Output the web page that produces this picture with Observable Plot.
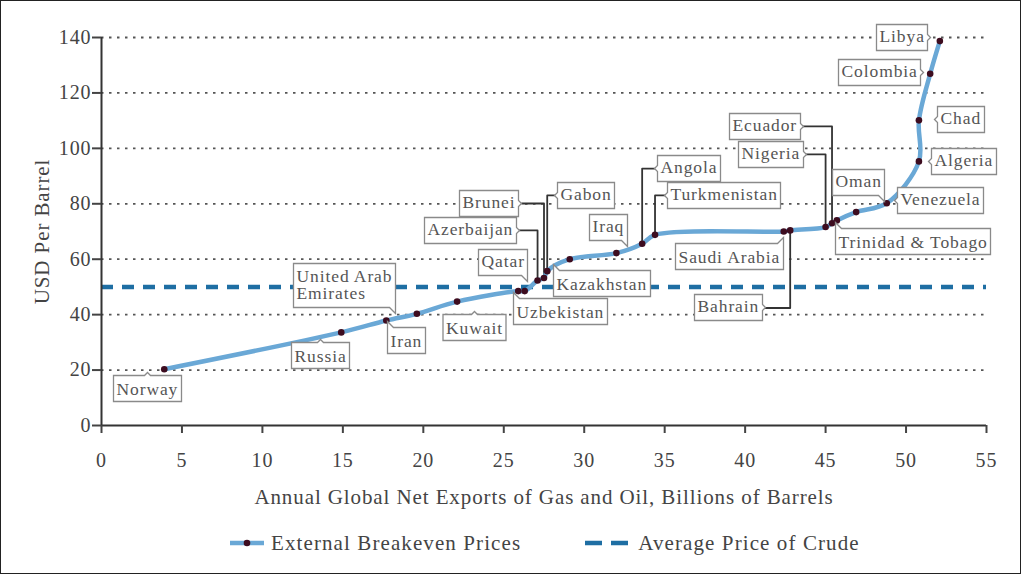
<!DOCTYPE html>
<html>
<head>
<meta charset="utf-8">
<script src="https://cdn.jsdelivr.net/npm/d3@7"></script>
<script src="https://cdn.jsdelivr.net/npm/@observablehq/plot@0.6"></script>
<style>
  html, body { margin: 0; padding: 0; background: #fff; }
  #wrap { position: relative; width: 1021px; height: 574px; overflow: hidden; background: #fff; }
  #border { position: absolute; left: 0; top: 0; width: 1019px; height: 572px; border: 1px solid #222; pointer-events: none; }
  #chart svg { display: block; }
  #chart svg text { letter-spacing: 0.9px; }
  #chart g[aria-label="tip"] text { fill: #555; letter-spacing: 0.9px; }
  #legend { position: absolute; left: 0; top: 520px; width: 1021px; height: 46px; box-sizing: border-box;
    padding-left: 230px; display: flex; justify-content: flex-start; align-items: center; gap: 64px;
    font-family: "Liberation Serif", serif; font-size: 21px; letter-spacing: 1.1px; color: #444; }
  #legend .item { display: flex; align-items: center; gap: 7px; }
  #legend svg { display: block; }
</style>
</head>
<body>
<div id="wrap">
  <div id="chart"></div>
  <div id="legend"></div>
  <div id="border"></div>
</div>
<script>
// ---- data ----
const countries = ["Norway", "Russia", "United Arab Emirates", "Iran", "Kuwait", "Qatar", "Uzbekistan",
  "Azerbaijan", "Brunei", "Gabon", "Kazakhstan", "Iraq", "Angola", "Turkmenistan", "Saudi Arabia",
  "Bahrain", "Nigeria", "Ecuador", "Trinidad & Tobago", "Oman", "Venezuela", "Algeria", "Chad",
  "Colombia", "Libya"];
const netExports = [3.9, 14.9, 17.7, 19.6, 22.1, 25.9, 26.3, 27.1, 27.5, 27.7, 29.1, 32.0, 33.6, 34.4,
  42.4, 42.8, 45.0, 45.4, 45.7, 46.9, 48.8, 50.8, 50.8, 51.5, 52.1];
const breakeven = [20.3, 33.6, 37.9, 40.3, 44.7, 48.5, 48.5, 52.3, 53.2, 55.7, 60.0, 62.2, 65.6, 68.8,
  70.0, 70.4, 71.6, 73.0, 74.0, 77.0, 80.2, 95.3, 110.1, 126.9, 138.7];
const averageCrude = 50;
const xTicks = [0, 5, 10, 15, 20, 25, 30, 35, 40, 45, 50, 55];
const yTicks = [0, 20, 40, 60, 80, 100, 120, 140];
const xTitle = "Annual Global Net Exports of Gas and Oil, Billions of Barrels";
const yTitle = "USD Per Barrel";
const seriesNames = ["External Breakeven Prices", "Average Price of Crude"];

// ---- callout layout (label pointer position in data units, box anchor) ----
const callouts = [
  {name: "Norway", anchor: "top", lx: 2.83, ly: 19.1},
  {name: "Russia", anchor: "top", lx: 13.61, ly: 31.0},
  {name: "United Arab Emirates", anchor: "bottom-right", lx: 18.27, ly: 40.4},
  {name: "Iran", anchor: "top-left", lx: 17.78, ly: 37.5},
  {name: "Kuwait", anchor: "top", lx: 23.15, ly: 41.1},
  {name: "Qatar", anchor: "bottom-right", lx: 26.48, ly: 52.0},
  {name: "Uzbekistan", anchor: "top-left", lx: 25.6, ly: 48.0},
  {name: "Azerbaijan", anchor: "right", lx: 25.98, ly: 70.4, elbow: true},
  {name: "Brunei", anchor: "right", lx: 26.13, ly: 80.1, elbow: true},
  {name: "Gabon", anchor: "left", lx: 28.15, ly: 83.0, elbow: true},
  {name: "Kazakhstan", anchor: "top-left", lx: 28.09, ly: 58.1},
  {name: "Iraq", anchor: "bottom-right", lx: 32.69, ly: 64.6},
  {name: "Angola", anchor: "left", lx: 34.37, ly: 92.7, elbow: true},
  {name: "Turkmenistan", anchor: "left", lx: 34.99, ly: 83.0, elbow: true},
  {name: "Saudi Arabia", anchor: "top-right", lx: 42.39, ly: 67.8},
  {name: "Bahrain", anchor: "right", lx: 41.27, ly: 42.4, elbow: true},
  {name: "Nigeria", anchor: "right", lx: 43.82, ly: 97.8, elbow: true},
  {name: "Ecuador", anchor: "right", lx: 43.63, ly: 107.9, elbow: true},
  {name: "Trinidad & Tobago", anchor: "top-left", lx: 45.62, ly: 73.2},
  {name: "Oman", anchor: "bottom-right", lx: 48.66, ly: 80.8},
  {name: "Venezuela", anchor: "left", lx: 49.28, ly: 81.2},
  {name: "Algeria", anchor: "left", lx: 51.4, ly: 95.3},
  {name: "Chad", anchor: "left", lx: 51.77, ly: 110.4},
  {name: "Colombia", anchor: "right", lx: 51.09, ly: 127.4},
  {name: "Libya", anchor: "right", lx: 51.52, ly: 140.0}
];

// ---- styles ----
const lineColor = "#6aa8d6";
const dotColor = "#3d0c1f";
const dashColor = "#1e6ea3";
const font = "Liberation Serif";

const points = countries.map((name, i) => ({name, x: netExports[i], y: breakeven[i]}));
const byName = new Map(points.map(d => [d.name, d]));
const connectors = callouts.filter(c => c.elbow).flatMap(c => {
  const p = byName.get(c.name);
  return [
    {name: c.name, x: c.lx, y: c.ly},
    {name: c.name, x: p.x, y: c.ly},
    {name: c.name, x: p.x, y: p.y}
  ];
});
const labelText = n => n === "United Arab Emirates" ? "United Arab\nEmirates" : n;

const tipMarks = callouts.map(c => {
  const twoLine = labelText(c.name).includes("\n");
  return Plot.tip([c], {
    x: "lx", y: "ly", title: d => labelText(d.name),
    anchor: c.anchor, pointerSize: 6, textPadding: 3, lineHeight: twoLine ? 1.0 : 0.9,
    fontSize: 17.5, fontFamily: font,
    fill: "white", stroke: "#8a8a8a", strokeWidth: 1.3, pathFilter: "none"
  });
});

const plot = Plot.plot({
  width: 1021, height: 520,
  marginLeft: 101, marginRight: 35, marginTop: 37, marginBottom: 95,
  x: {domain: [0, 55]},
  y: {domain: [0, 140]},
  style: {fontFamily: font, background: "white", overflow: "visible"},
  marks: [
    Plot.ruleY(yTicks.filter(v => v > 0), {stroke: "#555", strokeWidth: 1.8, strokeDasharray: "2.5,5.5"}),
    Plot.ruleY([averageCrude], {stroke: dashColor, strokeWidth: 4.5, strokeDasharray: "12,9"}),
    Plot.ruleX([0], {stroke: "#333", strokeWidth: 2}),
    Plot.ruleY([0], {stroke: "#333", strokeWidth: 2}),
    Plot.axisX(xTicks, {tickSize: 8, tickPadding: 19, fontSize: 20, color: "#444", strokeWidth: 2, label: null}),
    Plot.axisY(yTicks, {tickSize: 9, tickPadding: 1, fontSize: 20, color: "#444", strokeWidth: 2, label: null}),
    Plot.line(connectors, {x: "x", y: "y", z: "name", stroke: "#333", strokeWidth: 1.8, curve: "linear"}),
    Plot.line(points, {x: "x", y: "y", stroke: lineColor, strokeWidth: 4.5, curve: "catmull-rom"}),
    Plot.dot(points, {x: "x", y: "y", r: 3.3, fill: dotColor}),
    ...tipMarks,
    Plot.text([xTitle], {text: d => d, frameAnchor: "bottom", dy: 72, lineAnchor: "middle", textAnchor: "middle", fontSize: 21, fill: "#444"}),
    Plot.text([yTitle], {text: d => d, frameAnchor: "left", dx: -59, rotate: -90, lineAnchor: "middle", textAnchor: "middle", fontSize: 21, fill: "#444"})
  ]
});
document.getElementById("chart").appendChild(plot);

// ---- legend ----
const legend = document.getElementById("legend");
const ns = "http://www.w3.org/2000/svg";
function swatch(w, build) {
  const s = document.createElementNS(ns, "svg");
  s.setAttribute("width", w); s.setAttribute("height", 12);
  build(s);
  return s;
}
function el(name, attrs) {
  const e = document.createElementNS(ns, name);
  for (const k in attrs) e.setAttribute(k, attrs[k]);
  return e;
}
const sw1 = swatch(34, s => {
  s.appendChild(el("line", {x1: 0, y1: 6, x2: 34, y2: 6, stroke: lineColor, "stroke-width": 4.5}));
  s.appendChild(el("circle", {cx: 17, cy: 6, r: 3.3, fill: dotColor}));
});
const sw2 = swatch(46, s => {
  s.appendChild(el("line", {x1: 0, y1: 6, x2: 46, y2: 6, stroke: dashColor, "stroke-width": 4.5, "stroke-dasharray": "17,9"}));
});
[[sw1, seriesNames[0]], [sw2, seriesNames[1]]].forEach(([sw, label]) => {
  const item = document.createElement("span");
  item.className = "item";
  item.appendChild(sw);
  const t = document.createElement("span");
  t.textContent = label;
  item.appendChild(t);
  legend.appendChild(item);
});
</script>
</body>
</html>
